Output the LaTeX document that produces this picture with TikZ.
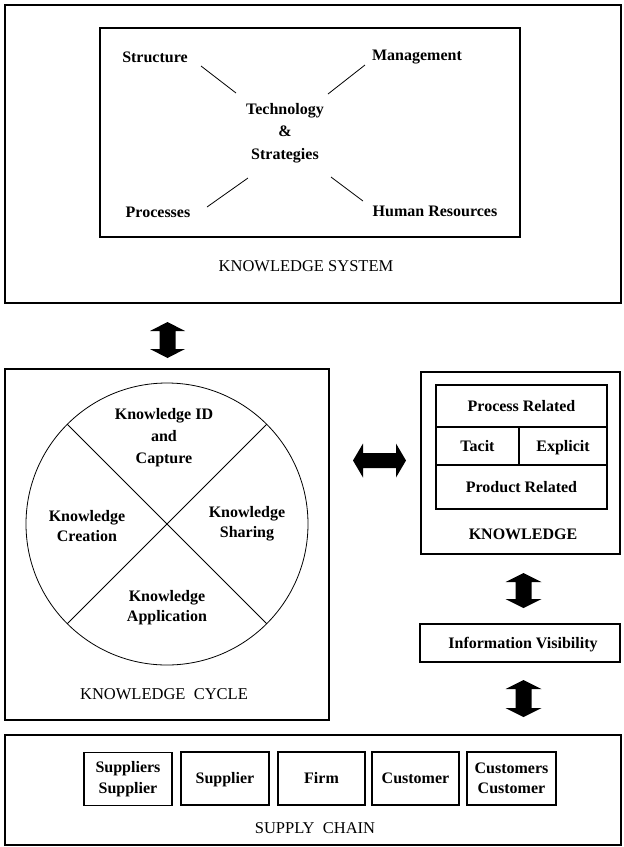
\documentclass[tikz,border=0pt]{standalone}
\usepackage{fontspec}
\setmainfont{Liberation Serif}
\newcommand\vdblarrow[5]{% x, top, bottom, half shaft, half head
  \fill (#1,#2) -- (#1+#5,#2+9) -- (#1+#4,#2+9) -- (#1+#4,#3-9) -- (#1+#5,#3-9) -- (#1,#3)
     -- (#1-#5,#3-9) -- (#1-#4,#3-9) -- (#1-#4,#2+9) -- (#1-#5,#2+9) -- cycle;}
\newcommand\hdblarrow[5]{% y, left, right, half shaft, half head
  \fill (#2,#1) -- (#2+10,#1-#5) -- (#2+10,#1-#4) -- (#3-10,#1-#4) -- (#3-10,#1-#5) -- (#3,#1)
     -- (#3-10,#1+#5) -- (#3-10,#1+#4) -- (#2+10,#1+#4) -- (#2+10,#1+#5) -- cycle;}
\begin{document}
\begin{tikzpicture}[x=1pt,y=-1pt,
  bigbox/.style={draw, line width=2.4pt, inner sep=0pt},
  midbox/.style={draw, line width=1.8pt, inner sep=0pt},
  thinbox/.style={draw, line width=1.3pt, inner sep=0pt},
  lbl/.style={font=\fontsize{16}{21}\selectfont\bfseries, align=center, inner sep=0pt},
  oneline/.style={text height=12pt, text depth=1.5pt},
  caps/.style={font=\fontsize{16.5}{21}\selectfont, inner sep=0pt},
  thin/.style={line width=0.8pt}]
\useasboundingbox (0,0) rectangle (624,847);

% ---------- Knowledge system ----------
\node[bigbox, minimum width=616pt, minimum height=298pt] (ks) at (313,154) {};
\node[thinbox, minimum width=420pt, minimum height=209pt] (ksin) at (310,132.5) {};
\node[lbl, oneline] (struct) at (155,57) {Structure};
\node[lbl, oneline] (mgmt) at (417,55) {Management};
\node[lbl, font=\fontsize{16}{22.5}\selectfont\bfseries] (tech) at (285,133) {Technology\\\&\\Strategies};
\node[lbl, oneline] (proc) at (158,212) {Processes};
\node[lbl, oneline] (hr) at (435,211) {Human Resources};
\node[caps] (kslbl) at (306,266) {KNOWLEDGE SYSTEM};
\coordinate (s1) at (201,66);  \coordinate (s2) at (236,93);
\coordinate (m1) at (365,65);  \coordinate (m2) at (328,94);
\coordinate (p1) at (207,207); \coordinate (p2) at (248,178);
\coordinate (h1) at (363,201); \coordinate (h2) at (331,177);
\draw[thin] (s1) -- (s2);
\draw[thin] (m1) -- (m2);
\draw[thin] (p1) -- (p2);
\draw[thin] (h1) -- (h2);

% ---------- Knowledge cycle ----------
\node[bigbox, minimum width=324pt, minimum height=351pt] (kc) at (167,544.5) {};
\node[draw, thin, circle, minimum size=282pt, inner sep=0pt] (cyc) at (167,524) {};
\draw[thin] (cyc.135) -- (cyc.-45);
\draw[thin] (cyc.45) -- (cyc.-135);
\node[lbl, font=\fontsize{16}{21.7}\selectfont\bfseries] (kid) at (164,437.5) {Knowledge ID\\and\\Capture};
\node[lbl, font=\fontsize{16}{19.5}\selectfont\bfseries] (kcr) at (87,526) {Knowledge\\Creation};
\node[lbl, font=\fontsize{16}{20}\selectfont\bfseries] (ksh) at (247,523.5) {Knowledge\\Sharing};
\node[lbl, font=\fontsize{16}{20}\selectfont\bfseries] (kap) at (167,607.5) {Knowledge\\Application};
\node[caps] (kclbl) at (164,694) {KNOWLEDGE\ \ CYCLE};

% ---------- Knowledge ----------
\node[bigbox, minimum width=199pt, minimum height=182pt] (kn) at (520.5,463) {};
\node[thinbox, lbl, oneline, minimum width=171pt, minimum height=42pt] (prel) at (521.5,406) {Process Related};
\node[thinbox, lbl, oneline, minimum width=83pt, minimum height=38pt] (tacit) at (477.5,446) {Tacit};
\node[thinbox, lbl, oneline, minimum width=88pt, minimum height=38pt] (expl) at (563,446) {Explicit};
\node[thinbox, lbl, oneline, minimum width=171pt, minimum height=44pt] (prod) at (521.5,487) {Product Related};
\node[lbl, oneline] (knlbl) at (523,534) {KNOWLEDGE};

% ---------- Information visibility ----------
\node[midbox, minimum width=200pt, minimum height=38pt] (iv) at (520,643) {};
\node[lbl, oneline] (ivlbl) at (523,643) {Information Visibility};

% ---------- Supply chain ----------
\node[midbox, minimum width=616pt, minimum height=110pt] (sc) at (313,790) {};
\node[thinbox, lbl, font=\fontsize{16}{21}\selectfont\bfseries, minimum width=88pt, minimum height=53pt] (ss) at (128,779) {Suppliers\\Supplier};
\node[thinbox, lbl, oneline, minimum width=88pt, minimum height=53pt] (sup) at (225,778.5) {Supplier};
\node[thinbox, lbl, oneline, minimum width=87pt, minimum height=53pt] (firm) at (321.5,778.5) {Firm};
\node[thinbox, lbl, oneline, minimum width=87pt, minimum height=53pt] (cus) at (415.5,778.5) {Customer};
\node[thinbox, lbl, font=\fontsize{16}{19.5}\selectfont\bfseries, minimum width=89pt, minimum height=53pt] (cc) at (511.5,778.5) {Customers\\Customer};
\node[caps] (sclbl) at (315,828) {SUPPLY\ \ CHAIN};

% ---------- Double arrows ----------
\vdblarrow{167.5}{322}{358}{8}{17.5}
\hdblarrow{460.5}{353}{406}{7.5}{17}
\vdblarrow{523.5}{573}{608}{8}{18}
\vdblarrow{523.5}{680}{717}{8}{18}
\end{tikzpicture}
\end{document}
